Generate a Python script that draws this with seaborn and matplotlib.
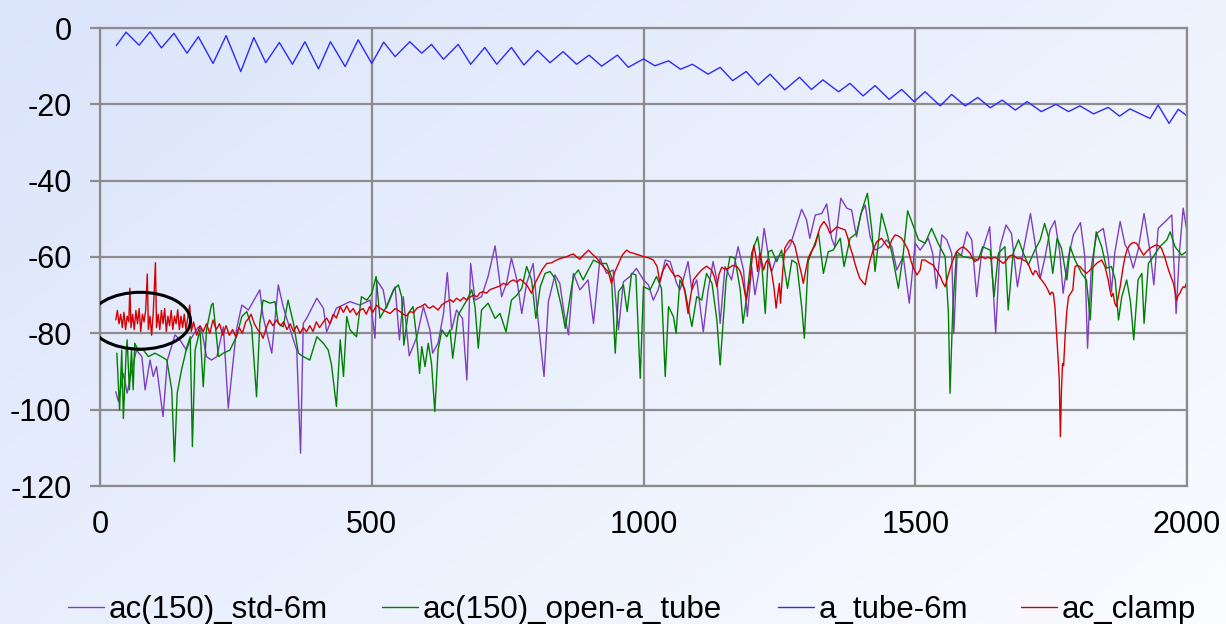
import numpy as np
import pandas as pd
import matplotlib
matplotlib.use("Agg")
import matplotlib.pyplot as plt
import seaborn as sns
from matplotlib.patches import Ellipse

# ---------------- data ----------------
labels = ["ac(150)_std-6m", "ac(150)_open-a_tube", "a_tube-6m", "ac_clamp"]
colors = ["#7f3fbf", "#008000", "#2b2bff", "#d40000"]
x_ticks = [0, 500, 1000, 1500, 2000]
y_ticks = [-120, -100, -80, -60, -40, -20, 0]

blue_x = [30, 48, 72, 92, 113, 136, 160, 181, 208, 232, 259, 283, 305, 330, 354, 377, 402, 424, 451, 475,
          500, 522, 543, 570, 592, 610, 632, 659, 682, 708, 730, 757, 780, 805, 828, 852, 877, 900, 923, 952,
          972, 1000, 1021, 1046, 1068, 1090, 1119, 1141, 1164, 1189, 1211, 1233, 1260, 1287, 1309, 1330, 1359,
          1380, 1404, 1426, 1452, 1475, 1498, 1518, 1546, 1567, 1592, 1615, 1638, 1660, 1684, 1706, 1732, 1759,
          1782, 1803, 1828, 1855, 1876, 1895, 1932, 1947, 1967, 1984, 2000]
blue_y = [-4.6, -1.1, -4.5, -1.0, -5.2, -1.4, -6.6, -2.3, -9.3, -2.0, -11.4, -2.5, -9.1, -3.8, -9.5, -3.6,
          -10.7, -3.6, -10.1, -3.1, -9.3, -3.7, -7.5, -3.6, -6.6, -4.3, -8.2, -4.3, -9.5, -5.1, -9.5, -5.1,
          -9.7, -5.9, -9.1, -6.2, -9.5, -7.1, -10.0, -7.1, -10.3, -8.1, -9.9, -8.6, -10.8, -9.5, -12.1, -10.3,
          -13.8, -11.4, -14.9, -12.1, -16.2, -12.9, -16.1, -13.6, -16.7, -14.5, -17.8, -15.1, -18.7, -16.1,
          -19.3, -16.7, -20.4, -17.4, -20.4, -18.2, -20.9, -18.9, -21.5, -19.3, -21.9, -20.0, -21.9, -20.4,
          -22.5, -20.8, -23.1, -21.2, -23.7, -20.2, -25.0, -21.3, -23.0]

purple_x = [29, 34, 43, 50, 58, 67, 77, 83, 92, 98, 104, 116, 124, 138, 147, 159, 166, 181, 187, 196, 205,
            215, 227, 236, 251, 261, 273, 294, 300, 316, 328, 337, 350, 362, 369, 374, 380, 399, 411, 417, 435,
            460, 478, 497, 506, 509, 521, 527, 543, 551, 558, 569, 583, 595, 607, 612, 622, 632, 639, 647, 656,
            667, 675, 682, 690, 702, 714, 727, 739, 748, 757, 767, 776, 785, 797, 806, 817, 825, 837, 846, 854,
            862, 871, 883, 898, 908, 920, 932, 944, 954, 963, 975, 987, 1000, 1009, 1018, 1027, 1040, 1049, 1061,
            1067, 1073, 1082, 1089, 1098, 1110, 1119, 1128, 1135, 1141, 1150, 1162, 1174, 1184, 1191, 1199, 1205,
            1214, 1222, 1230, 1236, 1245, 1257, 1270, 1279, 1291, 1300, 1306, 1316, 1328, 1337, 1346, 1352, 1363,
            1374, 1383, 1392, 1400, 1408, 1417, 1426, 1438, 1447, 1457, 1466, 1478, 1489, 1500, 1509, 1524, 1532,
            1539, 1549, 1558, 1567, 1571, 1577, 1585, 1595, 1604, 1613, 1622, 1637, 1648, 1656, 1667, 1677, 1688,
            1699, 1712, 1720, 1730, 1739, 1748, 1757, 1766, 1772, 1782, 1791, 1804, 1812, 1817, 1824, 1834, 1846,
            1855, 1861, 1867, 1877, 1886, 1892, 1901, 1910, 1921, 1932, 1939, 1947, 1963, 1972, 1980, 1986, 1993,
            1999]
purple_y = [-95.3, -97.9, -90.5, -95.7, -90.0, -84.4, -86.1, -94.8, -87.0, -91.3, -88.7, -101.8, -87.0, -80.4,
            -81.7, -84.4, -81.7, -78.3, -79.1, -86.1, -87.0, -86.1, -78.3, -99.6, -79.1, -72.6, -73.9, -68.6,
            -75.6, -85.2, -67.3, -73.0, -79.1, -84.4, -111.4, -77.4, -76.1, -70.8, -73.4, -79.6, -73.4, -71.7,
            -72.6, -71.3, -81.3, -66.0, -68.6, -73.4, -67.8, -81.7, -70.4, -85.9, -80.9, -73.0, -79.1, -85.2,
            -82.6, -74.8, -64.1, -79.1, -73.9, -76.1, -92.2, -61.7, -71.3, -70.4, -65.1, -57.1, -70.4, -66.9,
            -60.3, -66.0, -74.8, -66.9, -61.7, -76.5, -91.3, -71.7, -64.7, -66.9, -74.8, -80.4, -64.3, -68.6,
            -66.0, -77.4, -60.3, -64.3, -63.4, -79.1, -66.5, -65.1, -63.0, -66.0, -67.3, -71.3, -68.6, -60.8,
            -61.2, -66.9, -68.6, -66.0, -61.2, -68.6, -66.0, -79.6, -68.6, -61.2, -66.0, -77.4, -62.5, -66.0,
            -57.3, -63.4, -75.6, -62.5, -69.9, -62.5, -52.5, -59.9, -63.8, -59.9, -59.5, -56.9, -52.9, -47.5,
            -50.3, -55.1, -49.0, -48.6, -46.1, -55.1, -57.3, -44.6, -47.2, -47.7, -54.7, -48.6, -46.4, -54.7,
            -58.2, -57.3, -55.5, -57.3, -63.4, -59.9, -72.1, -56.4, -58.2, -55.1, -59.0, -68.2, -54.2, -55.5,
            -59.0, -80.0, -59.5, -59.5, -53.4, -55.5, -70.4, -59.0, -52.1, -80.0, -57.3, -51.6, -53.8, -67.8,
            -58.2, -48.6, -56.0, -65.6, -59.9, -52.9, -50.5, -59.0, -69.5, -59.9, -54.2, -51.0, -59.9, -83.9,
            -62.5, -53.8, -52.5, -59.9, -69.1, -59.0, -50.7, -56.8, -58.2, -62.9, -58.2, -48.6, -58.6, -67.3,
            -52.5, -50.3, -49.0, -74.8, -59.0, -47.2, -52.5]

green_x = [31, 36, 40, 43, 48, 50, 54, 58, 61, 64, 70, 80, 89, 101, 113, 123, 132, 137, 142, 150, 160, 166,
           170, 175, 184, 190, 196, 205, 208, 218, 227, 239, 251, 261, 270, 279, 285, 288, 294, 300, 313, 322,
           328, 337, 346, 356, 365, 374, 386, 399, 411, 420, 426, 432, 435, 442, 448, 454, 460, 472, 481, 491,
           500, 508, 515, 527, 540, 549, 555, 559, 567, 576, 583, 588, 592, 598, 604, 610, 616, 622, 629, 638,
           644, 649, 659, 675, 684, 690, 696, 702, 714, 727, 736, 747, 757, 767, 776, 785, 794, 802, 810, 819,
           828, 837, 849, 856, 865, 871, 880, 889, 895, 908, 920, 932, 941, 948, 954, 963, 970, 978, 986, 994,
           1000, 1012, 1024, 1033, 1040, 1046, 1055, 1060, 1067, 1076, 1089, 1098, 1107, 1116, 1126, 1135, 1141,
           1146, 1152, 1159, 1168, 1178, 1183, 1190, 1199, 1210, 1218, 1224, 1230, 1236, 1245, 1254, 1265, 1273,
           1282, 1291, 1296, 1303, 1313, 1322, 1331, 1340, 1349, 1362, 1369, 1380, 1392, 1402, 1412, 1420, 1426,
           1432, 1438, 1448, 1457, 1469, 1478, 1486, 1497, 1506, 1518, 1530, 1542, 1555, 1561, 1564, 1569, 1576,
           1588, 1604, 1616, 1624, 1638, 1645, 1653, 1665, 1671, 1680, 1690, 1699, 1708, 1720, 1730, 1738, 1745,
           1753, 1761, 1769, 1779, 1785, 1794, 1806, 1815, 1822, 1828, 1833, 1843, 1852, 1861, 1868, 1874, 1880,
           1889, 1896, 1902, 1910, 1917, 1921, 1929, 1938, 1950, 1963, 1969, 1978, 1990, 1999]
green_y = [-85.2, -100.1, -84.4, -102.3, -85.2, -81.7, -94.8, -84.4, -94.8, -82.6, -84.4, -84.4, -86.1, -85.2,
           -86.1, -87.0, -94.8, -113.6, -95.7, -89.6, -83.5, -80.9, -109.7, -84.4, -79.1, -94.0, -79.1, -72.6,
           -72.1, -86.1, -85.2, -84.4, -80.9, -75.6, -74.3, -78.3, -90.5, -96.6, -77.4, -71.3, -72.1, -71.7,
           -77.4, -78.3, -71.3, -77.4, -85.2, -86.1, -87.0, -80.9, -82.6, -84.4, -88.3, -95.7, -99.2, -81.7,
           -91.3, -75.6, -79.1, -80.9, -70.4, -71.3, -69.5, -65.1, -76.0, -73.0, -68.6, -67.3, -70.4, -83.1,
           -74.8, -73.0, -81.7, -90.5, -83.5, -88.7, -82.6, -87.9, -100.5, -84.4, -79.1, -80.9, -79.1, -86.5,
           -75.2, -71.3, -68.6, -73.0, -83.9, -73.9, -72.1, -76.1, -74.8, -79.6, -71.3, -70.0, -68.2, -62.5,
           -66.0, -76.1, -67.8, -64.3, -63.8, -65.6, -73.0, -78.7, -70.4, -65.1, -63.4, -66.0, -64.3, -60.8,
           -61.7, -61.7, -65.1, -85.2, -69.1, -67.3, -74.3, -64.3, -64.7, -91.8, -67.8, -68.6, -65.1, -68.2,
           -91.3, -73.0, -75.6, -80.0, -66.0, -68.6, -78.2, -70.4, -71.3, -64.3, -66.9, -76.5, -88.3, -78.2,
           -66.0, -59.9, -60.3, -68.6, -77.4, -70.4, -59.0, -54.7, -62.5, -74.8, -58.6, -58.2, -61.2, -58.2,
           -68.2, -60.8, -61.7, -73.0, -81.3, -61.2, -57.3, -53.8, -64.3, -58.6, -58.2, -55.1, -62.5, -55.1,
           -53.8, -47.7, -43.3, -52.9, -63.8, -56.4, -48.6, -53.8, -59.0, -68.2, -59.0, -47.9, -52.1, -55.5,
           -56.4, -52.5, -56.4, -59.9, -74.8, -95.7, -73.9, -58.6, -59.9, -60.3, -60.8, -57.3, -58.2, -70.4,
           -59.0, -57.3, -73.9, -59.0, -55.5, -59.0, -62.1, -58.2, -55.5, -51.2, -54.7, -64.3, -55.1, -57.7,
           -66.0, -57.3, -60.8, -64.3, -66.0, -76.5, -59.9, -53.4, -57.3, -62.9, -62.5, -66.0, -76.5, -70.4,
           -66.0, -71.7, -81.7, -66.0, -64.3, -77.4, -61.7, -59.9, -57.3, -55.5, -53.4, -57.3, -59.5, -58.6]

red_x = [29, 32, 35, 38, 41, 44, 47, 50, 53, 55, 57, 60, 63, 66, 69, 72, 75, 78, 81, 84, 87, 89, 92, 95, 98,
         102, 104, 107, 110, 113, 116, 119, 122, 125, 128, 131, 134, 137, 140, 143, 146, 149, 152, 155, 158, 162,
         165, 168, 172, 178, 184, 190, 196, 202, 208, 214, 220, 226, 232, 238, 244, 250, 256, 262, 268, 274, 278,
         284, 290, 296, 300, 306, 312, 318, 325, 332, 338, 344, 350, 356, 362, 368, 374, 380, 386, 392, 398, 404,
         411, 417, 423, 429, 435, 442, 448, 454, 460, 466, 472, 478, 484, 490, 496, 502, 509, 515, 522, 534, 543,
         552, 558, 564, 571, 577, 583, 590, 598, 603, 607, 613, 622, 629, 638, 645, 650, 656, 663, 669, 675, 681,
         687, 694, 699, 705, 711, 717, 724, 730, 736, 742, 749, 755, 761, 767, 773, 779, 786, 794, 800, 807, 814,
         822, 831, 840, 849, 859, 865, 871, 877, 883, 890, 899, 906, 914, 920, 926, 935, 941, 947, 954, 961, 969,
         975, 981, 990, 1000, 1009, 1018, 1025, 1030, 1036, 1043, 1050, 1058, 1064, 1070, 1076, 1082, 1087, 1092,
         1100, 1107, 1116, 1125, 1130, 1135, 1139, 1144, 1150, 1156, 1164, 1172, 1177, 1181, 1186, 1189, 1193,
         1196, 1200, 1203, 1207, 1210, 1214, 1218, 1221, 1225, 1228, 1232, 1236, 1240, 1244, 1247, 1250, 1252,
         1256, 1260, 1265, 1270, 1275, 1279, 1285, 1290, 1294, 1298, 1303, 1309, 1316, 1320, 1325, 1332, 1338,
         1343, 1349, 1356, 1363, 1371, 1376, 1380, 1385, 1389, 1394, 1398, 1403, 1408, 1412, 1417, 1423, 1429,
         1438, 1445, 1451, 1457, 1463, 1469, 1475, 1481, 1487, 1492, 1497, 1503, 1509, 1512, 1518, 1525, 1533,
         1539, 1546, 1550, 1555, 1561, 1567, 1572, 1576, 1582, 1588, 1594, 1601, 1605, 1610, 1616, 1622, 1628,
         1634, 1640, 1645, 1650, 1656, 1662, 1668, 1673, 1677, 1683, 1688, 1693, 1699, 1705, 1710, 1714, 1717,
         1720, 1723, 1727, 1730, 1735, 1739, 1744, 1748, 1751, 1754, 1757, 1760, 1763, 1765, 1767, 1769, 1771,
         1773, 1776, 1779, 1782, 1786, 1790, 1792, 1794, 1798, 1803, 1809, 1815, 1821, 1828, 1835, 1843, 1849,
         1855, 1858, 1861, 1864, 1867, 1870, 1874, 1877, 1882, 1886, 1890, 1895, 1901, 1907, 1913, 1920, 1926,
         1932, 1938, 1944, 1949, 1953, 1959, 1966, 1970, 1975, 1978, 1981, 1984, 1987, 1990, 1993, 1996, 2000]
red_y = [-76.5, -74.0, -77.5, -75.0, -78.5, -74.5, -79.0, -75.5, -77.0, -68.2, -78.5, -75.0, -79.0, -74.0, -77.5,
         -73.5, -79.5, -75.0, -77.0, -74.0, -64.5, -79.0, -75.5, -80.5, -74.5, -61.5, -78.5, -75.0, -79.0, -74.0,
         -77.5, -73.5, -79.5, -75.5, -78.0, -74.0, -79.0, -75.5, -77.5, -73.8, -79.0, -75.5, -78.5, -75.0, -79.0,
         -75.5, -72.6, -79.5, -77.0, -80.5, -78.0, -79.5, -77.5, -80.0, -76.5, -79.0, -77.5, -80.5, -78.0, -80.5,
         -79.0, -81.0, -78.5, -80.0, -77.0, -76.0, -75.0, -77.5, -79.0, -80.0, -81.3, -78.5, -76.5, -78.0, -76.5,
         -78.0, -77.0, -79.0, -77.5, -79.5, -78.0, -80.0, -78.5, -79.6, -78.0, -79.5, -77.0, -78.5, -77.0, -76.0,
         -77.5, -75.0, -76.0, -73.0, -74.5, -72.8, -74.5, -73.5, -75.2, -74.0, -73.5, -75.0, -73.0, -74.5, -72.6,
         -73.4, -74.0, -74.8, -73.5, -74.3, -75.0, -75.4, -74.3, -74.6, -73.4, -73.0, -72.3, -73.2, -73.4, -72.8,
         -73.9, -72.5, -71.7, -71.2, -71.8, -70.8, -71.5, -70.6, -71.3, -70.5, -70.0, -70.4, -69.4, -69.1, -69.5,
         -68.6, -68.2, -67.9, -67.6, -66.9, -67.3, -66.4, -66.0, -66.6, -65.8, -66.5, -67.5, -69.5, -67.0, -65.1,
         -63.2, -61.7, -61.5, -60.8, -60.3, -59.9, -59.5, -59.2, -60.0, -60.6, -59.4, -58.2, -59.3, -60.3, -61.5,
         -62.5, -63.8, -66.9, -64.0, -61.7, -59.5, -58.2, -58.8, -59.0, -59.4, -59.9, -60.2, -60.8, -62.5, -66.5,
         -63.5, -61.7, -63.5, -65.1, -64.8, -65.6, -69.0, -74.8, -70.0, -66.0, -64.5, -63.4, -62.4, -63.4, -65.0,
         -67.8, -64.5, -62.7, -63.2, -63.0, -62.2, -62.5, -63.5, -65.1, -69.0, -71.3, -68.0, -66.0, -60.0, -56.9,
         -60.0, -63.8, -59.0, -61.5, -63.4, -61.5, -60.8, -62.0, -64.3, -68.0, -73.4, -70.0, -66.9, -72.1, -64.0,
         -57.7, -56.5, -55.5, -56.0, -57.3, -61.2, -64.0, -66.9, -64.0, -60.3, -58.5, -56.9, -54.5, -52.1, -50.7,
         -52.0, -53.8, -53.0, -52.1, -52.5, -52.9, -55.0, -57.3, -59.5, -61.7, -64.0, -65.6, -66.5, -67.3, -64.0,
         -60.8, -58.0, -56.0, -55.1, -56.5, -57.7, -55.5, -54.2, -54.5, -55.1, -56.5, -58.2, -61.0, -63.0, -64.7,
         -63.4, -60.8, -60.8, -61.5, -62.1, -63.5, -65.1, -66.5, -67.8, -64.5, -61.7, -60.0, -58.6, -57.8, -57.3,
         -58.0, -59.0, -60.3, -61.2, -60.5, -59.9, -60.4, -60.1, -60.5, -60.1, -60.3, -61.0, -61.7, -60.8, -59.8,
         -59.5, -59.8, -60.4, -60.3, -60.8, -61.2, -62.5, -64.0, -64.7, -63.6, -63.8, -65.0, -65.6, -66.5, -67.3,
         -68.6, -69.9, -69.2, -69.5, -73.0, -80.0, -87.0, -92.2, -107.1, -95.0, -87.9, -88.5, -80.0, -74.0, -70.4,
         -69.5, -68.6, -65.0, -62.5, -62.2, -62.5, -63.5, -64.3, -63.5, -62.5, -61.5, -60.8, -62.5, -66.0, -68.5,
         -70.4, -69.5, -72.0, -73.0, -70.0, -67.8, -63.0, -59.9, -58.0, -56.8, -56.2, -56.4, -57.8, -59.5, -58.5,
         -57.7, -57.2, -56.8, -57.2, -57.7, -60.0, -63.4, -65.0, -66.9, -69.0, -71.3, -70.0, -69.5, -68.5, -67.8,
         -68.0, -66.5]

# ellipse annotation (data units)
ellipse_center = (74, -76.7)
ellipse_size = (185, 14.9)

# ---------------- styling ----------------
sns.set_theme(style="white")
plt.rcParams["font.family"] = ["Liberation Sans", "DejaVu Sans"]
plt.rcParams["axes.unicode_minus"] = False
plt.rcParams["text.color"] = "black"

W, H = 1226, 624
fig = plt.figure(figsize=(W / 100, H / 100), dpi=100)

# gradient background
bg = fig.add_axes([0, 0, 1, 1], zorder=-10)
u = np.linspace(0, 1, W)[None, :]
v = np.linspace(0, 1, H)[:, None]
t = np.clip(0.62 * u + 0.42 * v, 0, 1)
c0 = np.array([218, 228, 251]) / 255.0
c1 = np.array([250, 251, 255]) / 255.0
img = c0[None, None, :] + (c1 - c0)[None, None, :] * t[..., None]
bg.imshow(img, aspect="auto", extent=[0, 1, 0, 1], origin="upper")
bg.axis("off")

ax = fig.add_axes([100 / W, 1 - 486 / H, 1087 / W, 458 / H])
ax.patch.set_alpha(0)

series = [(purple_x, purple_y), (green_x, green_y), (blue_x, blue_y), (red_x, red_y)]
for (xs, ys), lab, col in zip(series, labels, colors):
    df = pd.DataFrame({"x": xs, "y": ys})
    sns.lineplot(data=df, x="x", y="y", ax=ax, color=col, linewidth=1.0,
                 label=lab, estimator=None, sort=False, legend=False)

ax.add_patch(Ellipse(ellipse_center, ellipse_size[0], ellipse_size[1], fill=False,
                     edgecolor="black", linewidth=2.2, zorder=6))

ax.set_xlim(0, 2000)
ax.set_ylim(-120, 0)
ax.set_xticks(x_ticks)
ax.set_yticks(y_ticks)
ax.set_xticklabels([str(v) for v in x_ticks])
ax.set_yticklabels([str(v) for v in y_ticks])
ax.set_xlabel("")
ax.set_ylabel("")
ax.set_axisbelow(True)
ax.grid(True, color="#8c8c8c", linewidth=1.6)
for s in ax.spines.values():
    s.set_color("#8c8c8c")
    s.set_linewidth(1.6)
ax.tick_params(axis="y", left=True, length=7.5, width=1.6, color="#8c8c8c", pad=13,
               labelsize=22, labelcolor="black", direction="out")
ax.tick_params(axis="x", bottom=True, length=0, pad=17, labelsize=22, labelcolor="black")

# legend: one entry per slot, positioned as in the reference
handles = ax.get_lines()[:4]
slot_x = [68, 382, 778, 1021]
for h, lab, sx in zip(handles, labels, slot_x):
    fig.legend([h], [lab], loc="center left", bbox_to_anchor=(sx / W, 1 - 610 / H),
               frameon=False, handlelength=1.15, handletextpad=0.15, borderpad=0,
               borderaxespad=0, labelcolor="black",
               prop={"family": ["Liberation Sans", "DejaVu Sans"], "size": 22.5})

fig.savefig("out.png", dpi=100)
